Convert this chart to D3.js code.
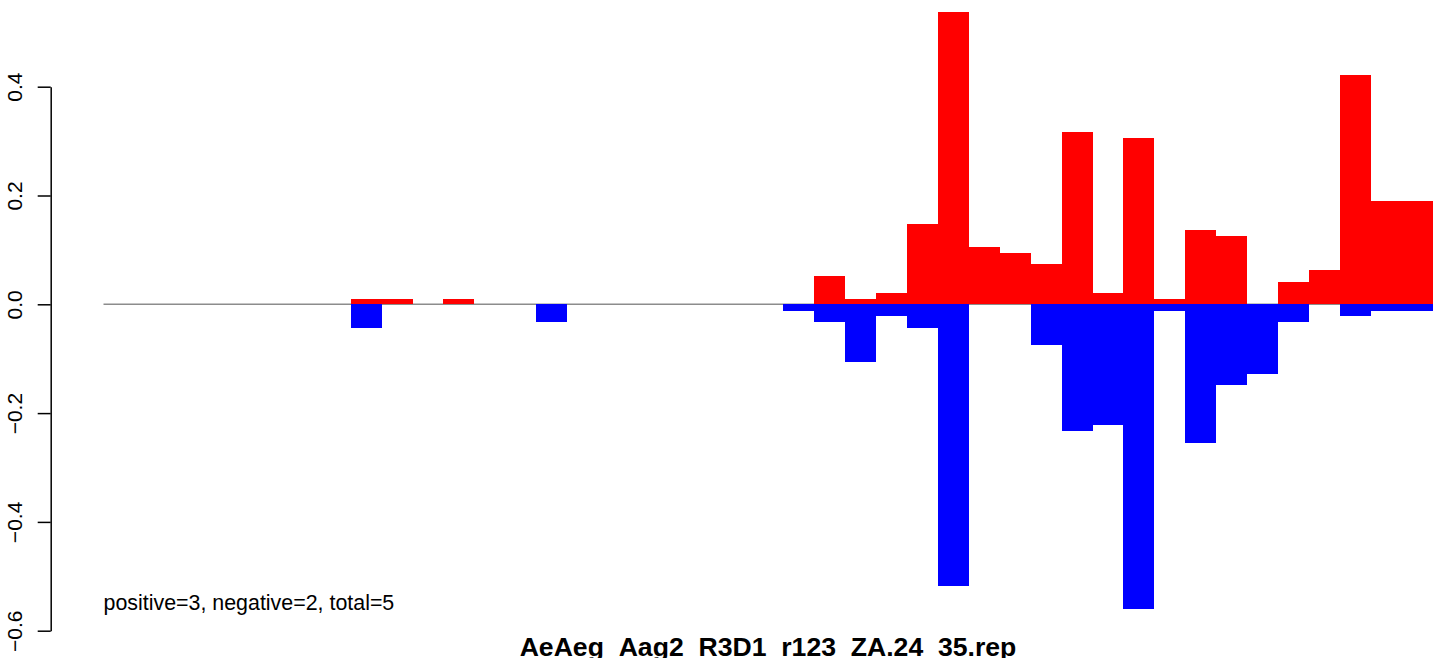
<!DOCTYPE html>
<html>
<head>
<meta charset="utf-8">
<script src="https://cdn.jsdelivr.net/npm/d3@7"></script>
<style>
  html, body { margin: 0; padding: 0; background: #fff; overflow: hidden; }
  svg { display: block; font-family: "Liberation Sans", Arial, Helvetica, sans-serif; }
</style>
</head>
<body>
<svg id="chart" width="1433" height="658"></svg>
<script>
// ---- data ----
const bins = d3.range(1, 44).map(String);
const positiveValues = [
  0, 0, 0, 0, 0, 0, 0, 0, 0.0095, 0.0095,
  0, 0.0095, 0, 0, 0, 0, 0, 0, 0, 0,
  0, 0, 0, 0.052, 0.0098, 0.021, 0.148, 0.537, 0.105, 0.094,
  0.074, 0.317, 0.021, 0.306, 0.0098, 0.137, 0.126, 0, 0.041, 0.063,
  0.421, 0.19, 0.19
];
const negativeValues = [
  0, 0, 0, 0, 0, 0, 0, 0, -0.043, 0,
  0, 0, 0, 0, -0.032, 0, 0, 0, 0, 0,
  0, 0, -0.012, -0.033, -0.106, -0.0215, -0.0436, -0.518, 0, 0,
  -0.075, -0.233, -0.222, -0.56, -0.012, -0.255, -0.148, -0.128, -0.033, 0,
  -0.0215, -0.012, -0.012
];
const yTicks = [-0.6, -0.4, -0.2, 0.0, 0.2, 0.4];
const yTickLabels = ["\u22120.6", "\u22120.4", "\u22120.2", "0.0", "0.2", "0.4"];
const titleText = "AeAeg_Aag2_R3D1_r123_ZA.24_35.rep";
const noteText = "positive=3, negative=2, total=5";

// ---- layout ----
const svg = d3.select("#chart");
const plotLeft = 103.5, plotRight = 1432.5;
const axisX = 50.7;

const x = d3.scaleBand().domain(bins).range([plotLeft, plotRight]).padding(0);
const y = d3.scaleLinear().domain([-0.6, 0.4]).range([630.7, 86.7]);

// zero line
svg.append("line")
  .attr("x1", plotLeft).attr("x2", plotRight)
  .attr("y1", y(0)).attr("y2", y(0))
  .attr("stroke", "#8c8c8c").attr("stroke-width", 1.5);

// positive bars
svg.append("g").selectAll("rect")
  .data(positiveValues.map((v, i) => ({ k: bins[i], v })).filter(d => d.v !== 0))
  .join("rect")
  .attr("x", d => x(d.k))
  .attr("width", x.bandwidth())
  .attr("y", d => y(d.v))
  .attr("height", d => y(0) - y(d.v))
  .attr("fill", "#ff0000")
  .attr("shape-rendering", "crispEdges");

// negative bars
svg.append("g").selectAll("rect")
  .data(negativeValues.map((v, i) => ({ k: bins[i], v })).filter(d => d.v !== 0))
  .join("rect")
  .attr("x", d => x(d.k))
  .attr("width", x.bandwidth())
  .attr("y", y(0))
  .attr("height", d => y(d.v) - y(0))
  .attr("fill", "#0000ff")
  .attr("shape-rendering", "crispEdges");

// y axis
const yAxis = d3.axisLeft(y)
  .tickValues(yTicks)
  .tickSize(13)
  .tickSizeOuter(0)
  .tickFormat((d, i) => yTickLabels[i]);

const gy = svg.append("g")
  .attr("transform", `translate(${axisX},0)`)
  .call(yAxis);
gy.select(".domain").attr("stroke", "#000").attr("stroke-width", 1.5);
gy.selectAll(".tick line").attr("stroke", "#000").attr("stroke-width", 1.5);
gy.selectAll(".tick text")
  .attr("font-size", 21)
  .attr("font-family", "\"Liberation Sans\", Arial, Helvetica, sans-serif")
  .attr("fill", "#000")
  .attr("text-anchor", "middle")
  .attr("dy", 0)
  .attr("x", 0)
  .attr("transform", `translate(${22 - axisX},0) rotate(-90)`);

// note text
svg.append("text")
  .attr("x", plotLeft)
  .attr("y", 610)
  .attr("font-size", 21.4)
  .attr("fill", "#000")
  .text(noteText);

// title
svg.append("text")
  .attr("x", (plotLeft + plotRight) / 2)
  .attr("y", 656)
  .attr("text-anchor", "middle")
  .attr("font-size", 26.6)
  .attr("font-weight", "bold")
  .attr("fill", "#000")
  .text(titleText);
</script>
</body>
</html>
